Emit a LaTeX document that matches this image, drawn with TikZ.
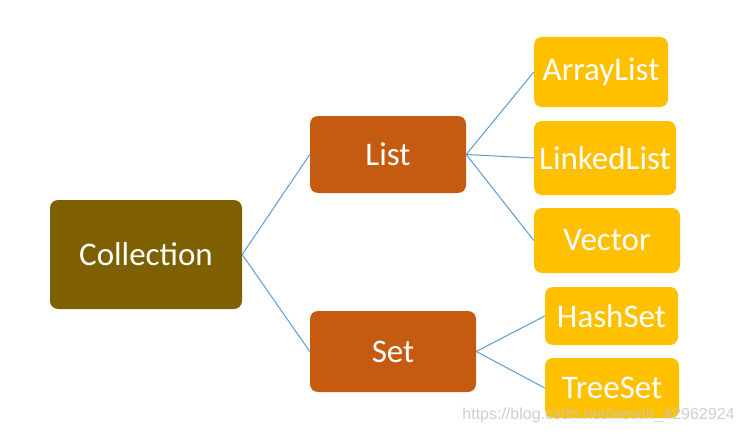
\documentclass[tikz,border=0pt]{standalone}
\usepackage{fontspec}
\setmainfont{Carlito}
\newfontfamily\wmfont{Liberation Sans}
\usetikzlibrary{positioning}
\definecolor{rootbrown}{HTML}{7F6000}
\definecolor{rust}{HTML}{C55A11}
\definecolor{amber}{HTML}{FFC000}
\definecolor{linkblue}{HTML}{5B9BD5}

\begin{document}
\begin{tikzpicture}[x=1pt, y=-1pt,
  box/.style={rounded corners=8pt, text=white, inner sep=0pt,
    font=\fontsize{33}{40}\selectfont},
  branch/.style={linkblue, line width=1pt}]

% Canvas
\useasboundingbox (0,0) rectangle (742,436);

% Root
\node[box, fill=rootbrown, minimum width=192pt, minimum height=109pt] (collection) at (146,254.5) {Collection};

% Second level
\node[box, fill=rust, minimum width=156pt, minimum height=77pt] (list) at (388,154.5) {List};
\node[box, fill=rust, minimum width=166pt, minimum height=81pt] (set) at (393,351.5) {Set};

% Leaves of List
\node[box, fill=amber, minimum width=134pt, minimum height=70pt] (arraylist) at (601,72) {ArrayList};
\node[box, fill=amber, minimum width=142pt, minimum height=74pt] (linkedlist) at (605,158) {LinkedList};
\node[box, fill=amber, minimum width=146pt, minimum height=65pt] (vector) at (607,240.5) {Vector};

% Leaves of Set
\node[box, fill=amber, minimum width=133pt, minimum height=58pt] (hashset) at (611.5,316) {HashSet};
\node[box, fill=amber, minimum width=134pt, minimum height=60pt] (treeset) at (612,388) {TreeSet};

% Connectors
\draw[branch] (collection.east) -- (list.west);
\draw[branch] (collection.east) -- (set.west);
\draw[branch] (list.east) -- (arraylist.west);
\draw[branch] (list.east) -- (linkedlist.west);
\draw[branch] (list.east) -- (vector.west);
\draw[branch] (set.east) -- (hashset.west);
\draw[branch] (set.east) -- (treeset.west);

% Watermark
\node[text=gray!45, text opacity=0.85, font=\wmfont\fontsize{16}{18}\selectfont] (watermark) at (598.5,415) {https://blog.csdn.net/weixin\_42962924};

\end{tikzpicture}
\end{document}
